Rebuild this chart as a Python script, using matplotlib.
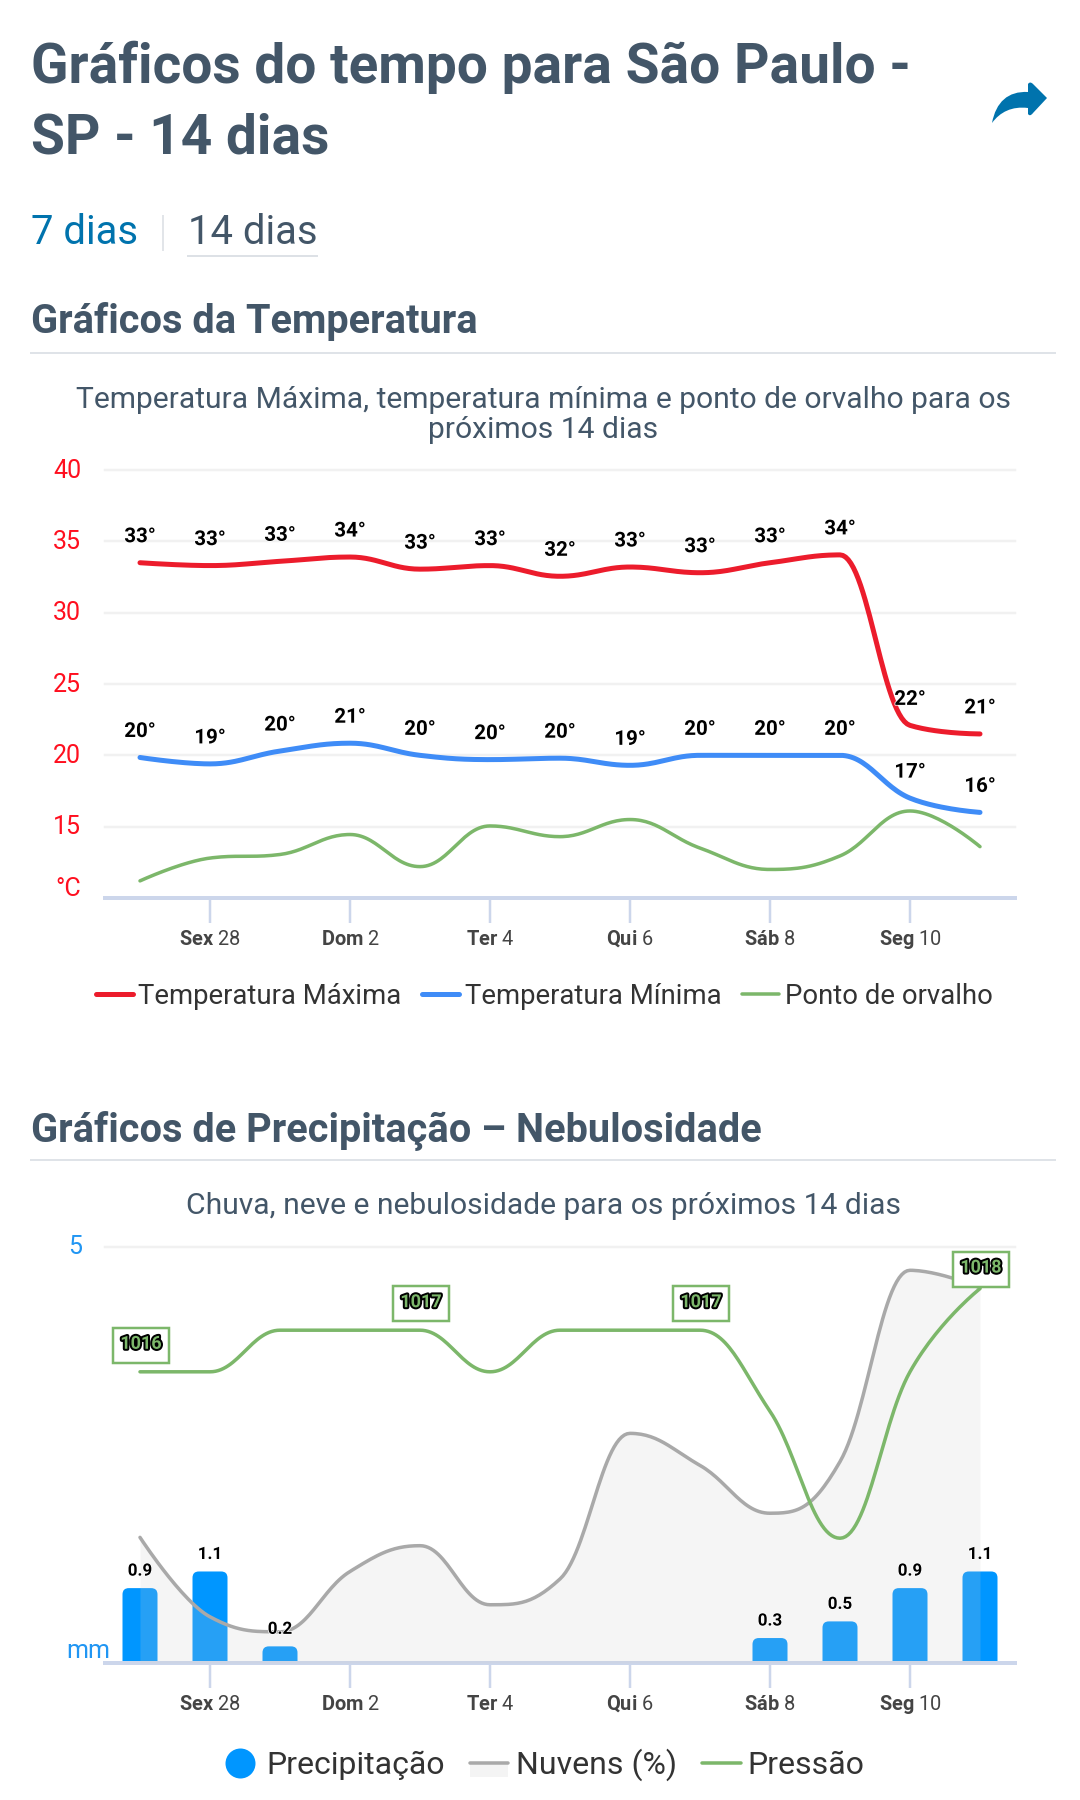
"""Weather charts page for Sao Paulo: temperature and precipitation panels."""

import matplotlib

matplotlib.use("Agg")

import matplotlib.patheffects as pe
import matplotlib.pyplot as plt
import numpy as np
from matplotlib.legend_handler import HandlerBase
from matplotlib.lines import Line2D
from matplotlib.patches import FancyBboxPatch, PathPatch, Rectangle
from matplotlib.path import Path
from matplotlib.transforms import ScaledTranslation

plt.rcParams["font.family"] = ["Roboto", "DejaVu Sans"]
plt.rcParams["mathtext.fontset"] = "custom"
plt.rcParams["mathtext.bf"] = "Roboto:bold"
plt.rcParams["mathtext.rm"] = "Roboto"

# Data.
temp_max = [33.5, 33.3, 33.6, 33.9, 33.05, 33.3, 32.55, 33.2, 32.8, 33.5, 34.05, 22.1, 21.5]
temp_min = [19.85, 19.4, 20.3, 20.85, 20.0, 19.7, 19.8, 19.3, 20.0, 20.0, 20.0, 17.0, 16.0]
dew_point = [11.2, 12.8, 13.05, 14.45, 12.2, 15.05, 14.3, 15.5, 13.5, 12.0, 12.95, 16.1, 13.6]
max_labels = ["33", "33", "33", "34", "33", "33", "32", "33", "33", "33", "34", "22", "21"]
min_labels = ["20", "19", "20", "21", "20", "20", "20", "19", "20", "20", "20", "17", "16"]

rain_mm = [0.9, 1.1, 0.2, 0, 0, 0, 0, 0, 0, 0.3, 0.5, 0.9, 1.1]
clouds_pct = [30.2, 11.1, 7.5, 22.0, 28.2, 14.0, 20.2, 55.2, 47.5, 36.0, 48.4, 94.4, 90.2]
pressure = [1016, 1016, 1017, 1017, 1017, 1016, 1017, 1017, 1017, 1015.05, 1012, 1016, 1018]
pressure_label_idx = [0, 4, 8, 12]

tick_idx = [1, 3, 5, 7, 9, 11]
tick_days = ["Sex", "Dom", "Ter", "Qui", "Sáb", "Seg"]
tick_nums = ["28", "2", "4", "6", "8", "10"]
temp_ticks = [10, 15, 20, 25, 30, 35, 40]
temp_tick_labels = ["°C", "15", "20", "25", "30", "35", "40"]

W, H = 1080, 1800
PT = 0.72  # px -> pt at dpi 100

INK = "#435668"
RED = "#ec1c2c"
BLUE = "#3f8cf7"
GREEN = "#7cb76a"
GRAY = "#a9a9a9"
RAIN = "#0096ff"
AXIS = "#ccd6eb"
GRID = "#f1f1f1"


def spline(y_values, smoothing=1.5, per_segment=30):
    """Smooth curve through the points, flat at local extremes."""
    ys = list(y_values)
    n = len(ys)
    denom = smoothing + 1
    left = [0.0] * n
    right = [0.0] * n
    for i in range(n):
        if i == 0 or i == n - 1:
            left[i] = right[i] = ys[i]
            continue
        p, last, nxt = ys[i], ys[i - 1], ys[i + 1]
        lc = (smoothing * p + last) / denom
        rc = (smoothing * p + nxt) / denom
        # x offsets are symmetric, so the slope correction uses half the span
        correction = (rc - lc) * 0.5 + p - rc
        lc += correction
        rc += correction
        if lc > last and lc > p:
            lc = max(last, p)
            rc = 2 * p - lc
        elif lc < last and lc < p:
            lc = min(last, p)
            rc = 2 * p - lc
        if rc > p and rc > nxt:
            rc = max(p, nxt)
            lc = 2 * p - rc
        elif rc < p and rc < nxt:
            rc = min(p, nxt)
            lc = 2 * p - rc
        left[i], right[i] = lc, rc

    xs_out, ys_out = [], []
    cx = 1 / denom
    t = np.linspace(0, 1, per_segment)
    for i in range(n - 1):
        x0, x3 = i, i + 1
        x1 = x0 if i == 0 else x0 + cx
        x2 = x3 if i == n - 2 else x3 - cx
        y0, y1, y2, y3 = ys[i], right[i], left[i + 1], ys[i + 1]
        xs_out.extend((1 - t) ** 3 * x0 + 3 * (1 - t) ** 2 * t * x1 + 3 * (1 - t) * t**2 * x2 + t**3 * x3)
        ys_out.extend((1 - t) ** 3 * y0 + 3 * (1 - t) ** 2 * t * y1 + 3 * (1 - t) * t**2 * y2 + t**3 * y3)
    return np.array(xs_out), np.array(ys_out)


def add_axes_px(left, top, right, bottom):
    return fig.add_axes([left / W, 1 - bottom / H, (right - left) / W, (bottom - top) / H])


def style_axes(ax):
    ax.set_xlim(-0.5, 12.5)
    ax.patch.set_alpha(0)
    for side in ("top", "left", "right"):
        ax.spines[side].set_visible(False)
    ax.spines["bottom"].set_color(AXIS)
    ax.spines["bottom"].set_linewidth(4 * PT)
    ax.set_xticks(tick_idx)
    ax.set_xticklabels(
        [rf"$\mathbf{{{d}}}$ {n}" for d, n in zip(tick_days, tick_nums)],
        fontsize=20 * PT,
        color="#444444",
        va="baseline",
    )
    ax.tick_params(axis="x", length=25 * PT, width=2.5 * PT, color=AXIS, pad=22 * PT)
    ax.tick_params(axis="y", length=0)
    ax.grid(axis="y", color=GRID, linewidth=2.5 * PT, clip_on=False)
    ax.set_axisbelow(True)


def label_box(x0, y0, width, height, mutation_size):
    """Plain box around a pressure label, padded in pixels."""
    x0, x1 = x0 - 7, x0 + width + 7
    y0, y1 = y0 - 10, y0 + height + 7
    return Path([(x0, y0), (x1, y0), (x1, y1), (x0, y1), (x0, y0)], closed=True)


class CloudHandler(HandlerBase):
    """Legend key: grey line with the pale area under it."""

    def create_artists(self, legend, orig, xd, yd, width, height, fontsize, trans):
        mid = height / 2 - yd
        rect = Rectangle((-xd, mid - 0.45 * fontsize), width, 0.45 * fontsize,
                         facecolor="#f4f4f4", edgecolor="none", transform=trans)
        line = Line2D([-xd, width - xd], [mid, mid], color=GRAY, lw=3.5 * PT,
                      solid_capstyle="round", transform=trans)
        return [rect, line]


fig = plt.figure(figsize=(W / 100, H / 100), dpi=100, facecolor="white")

# Page furniture, placed in pixel coordinates.
page = fig.add_axes([0, 0, 1, 1])
page.set_xlim(0, W)
page.set_ylim(H, 0)
page.axis("off")

page.text(31, 83, "Gráficos do tempo para São Paulo -", fontsize=55 * PT, weight="bold", color=INK)
page.text(31, 154, "SP - 14 dias", fontsize=55 * PT, weight="bold", color=INK)

arrow = Path(
    [(992, 123), (996, 102), (1008, 91), (1028, 92), (1028, 84), (1030, 81), (1033, 84), (1047, 98),
     (1033, 113), (1030, 117), (1028, 114), (1028, 108), (1012, 106), (1000, 112), (992, 123)],
    [Path.MOVETO, Path.CURVE4, Path.CURVE4, Path.CURVE4, Path.LINETO, Path.CURVE3, Path.CURVE3,
     Path.LINETO, Path.LINETO, Path.CURVE3, Path.CURVE3, Path.LINETO, Path.CURVE4, Path.CURVE4,
     Path.CURVE4],
)
page.add_patch(PathPatch(arrow, facecolor="#0073ad", edgecolor="none"))

page.text(31, 244, "7 dias", fontsize=40 * PT, color="#0073ad")
page.plot([163, 163], [216, 250], color="#e2e5e9", lw=2 * PT)
page.text(188, 244, "14 dias", fontsize=40 * PT, color=INK)
page.plot([188, 317], [256, 256], color="#dde1e6", lw=2 * PT)

page.text(31, 333, "Gráficos da Temperatura", fontsize=39.8 * PT, weight="bold", color=INK)
page.plot([31, 1055], [352.5, 352.5], color="#dfe3e8", lw=2 * PT)
page.text(543, 408, "Temperatura Máxima, temperatura mínima e ponto de orvalho para os",
          fontsize=30 * PT, color=INK, ha="center")
page.text(543, 438, "próximos 14 dias", fontsize=30 * PT, color=INK, ha="center")

page.text(31, 1142, "Gráficos de Precipitação – Nebulosidade", fontsize=39.8 * PT, weight="bold", color=INK)
page.plot([31, 1055], [1160, 1160], color="#dfe3e8", lw=2 * PT)
page.text(543, 1214, "Chuva, neve e nebulosidade para os próximos 14 dias",
          fontsize=30 * PT, color=INK, ha="center")

# Temperature panel.
ax_t = add_axes_px(105, 470, 1015, 898)
style_axes(ax_t)
ax_t.set_ylim(10, 40)
ax_t.set_yticks(temp_ticks)
ax_t.set_yticklabels(temp_tick_labels, fontsize=25 * PT, color="#ff0f1f")
ax_t.tick_params(axis="y", pad=24 * PT)
for value, label in zip(temp_ticks, ax_t.get_yticklabels()):
    shift = 12 if value == 10 else 2
    label.set_transform(label.get_transform() + ScaledTranslation(0, shift * PT / 72, fig.dpi_scale_trans))

line_max, = ax_t.plot(*spline(temp_max), color=RED, lw=5 * PT, solid_capstyle="round", label="Temperatura Máxima")
line_min, = ax_t.plot(*spline(temp_min), color=BLUE, lw=5 * PT, solid_capstyle="round", label="Temperatura Mínima")
line_dew, = ax_t.plot(*spline(dew_point), color=GREEN, lw=3.5 * PT, solid_capstyle="round", label="Ponto de orvalho")

halo = [pe.withStroke(linewidth=1.5 * PT, foreground="white")]
for values, labels in ((temp_max, max_labels), (temp_min, min_labels)):
    for i, (v, txt) in enumerate(zip(values, labels)):
        ax_t.annotate(f"{txt}°", (i, v), xytext=(0, 26), textcoords="offset pixels", ha="center", va="center",
                      fontsize=20.5 * PT, weight="bold", color="black", path_effects=halo)

ax_t.legend(
    handles=[line_max, line_min, line_dew], loc="center", bbox_to_anchor=(544 / W, 1 - 996 / H),
    bbox_transform=fig.transFigure, ncol=3, frameon=False, fontsize=27.5 * PT, labelcolor="#333333",
    handlelength=1.35, handletextpad=0.2, columnspacing=0.75, borderpad=0,
)

# Precipitation panel: bars, cloud area over them, pressure on top.
ax_r = add_axes_px(105, 1247, 1015, 1663)
style_axes(ax_r)
ax_r.set_ylim(0, 5)
ax_r.set_yticks([0, 5])
ax_r.set_yticklabels(["", "5"], fontsize=25 * PT, color="#2196f3")
ax_r.tick_params(axis="y", pad=23 * PT)
ax_r.get_yticklabels()[1].set_transform(
    ax_r.get_yticklabels()[1].get_transform() + ScaledTranslation(0, 3 * PT / 72, fig.dpi_scale_trans)
)
ax_r.annotate("mm", (0, 0), xycoords=("axes fraction", "data"), xytext=(5, 12), textcoords="offset pixels",
              ha="right", va="center", fontsize=25 * PT, color="#2196f3", annotation_clip=False)

# x unit is 70 px, y unit is 83.2 px
bars = ax_r.bar(range(len(rain_mm)), rain_mm, width=0.5, color="none")
for rect, value in zip(bars, rain_mm):
    if value <= 0:
        continue
    ax_r.add_patch(FancyBboxPatch(
        (rect.get_x(), -0.2), rect.get_width(), value + 0.2,
        boxstyle="round,pad=0,rounding_size=0.09", mutation_aspect=70 / 83.2,
        facecolor=RAIN, edgecolor="none", clip_on=True,
    ))

ax_c = ax_r.twinx()
ax_c.set_ylim(0, 100)
ax_c.axis("off")
cx, cy = spline(clouds_pct)
ax_c.fill_between(cx, 0, cy, color="#cccccc", alpha=0.19, linewidth=0)
line_c, = ax_c.plot(cx, cy, color=GRAY, lw=3.5 * PT, solid_capstyle="round", label="Nuvens (%)")

ax_p = ax_r.twinx()
ax_p.set_ylim(1009, 1019)
ax_p.axis("off")
line_p, = ax_p.plot(*spline(pressure), color=GREEN, lw=3.5 * PT, solid_capstyle="round", label="Pressão")

for i in pressure_label_idx:
    up = 21 if i == pressure_label_idx[-1] else 28
    ax_p.annotate(
        f"{pressure[i]:.0f}", (i, pressure[i]), xytext=(1, up), textcoords="offset pixels", ha="center", va="center",
        fontsize=18 * PT, weight="bold", color=GREEN, annotation_clip=False, zorder=6,
        path_effects=[pe.withStroke(linewidth=4 * PT, foreground="black")],
        bbox=dict(boxstyle=label_box, facecolor="white", edgecolor=GREEN, linewidth=2.5 * PT),
    )

for i, value in enumerate(rain_mm):
    if value > 0:
        ax_p.annotate(f"{value:.1f}", (i, value), xycoords=ax_r.transData, xytext=(0, 17), textcoords="offset pixels",
                      ha="center", va="center", fontsize=17 * PT, weight="bold", color="black", path_effects=halo,
                      zorder=6)

rain_key = Line2D([], [], linestyle="none", marker="o", markersize=30 * PT, color=RAIN, markeredgewidth=0,
                  label="Precipitação")
ax_p.legend(
    handles=[rain_key, line_c, line_p], handler_map={line_c: CloudHandler()}, loc="center",
    bbox_to_anchor=(542.5 / W, 1 - 1765 / H), bbox_transform=fig.transFigure, ncol=3, frameon=False,
    fontsize=32 * PT, labelcolor="#333333", handlelength=1.2, handletextpad=0.22, columnspacing=0.8, borderpad=0,
)

fig.savefig("out.png", dpi=100)
